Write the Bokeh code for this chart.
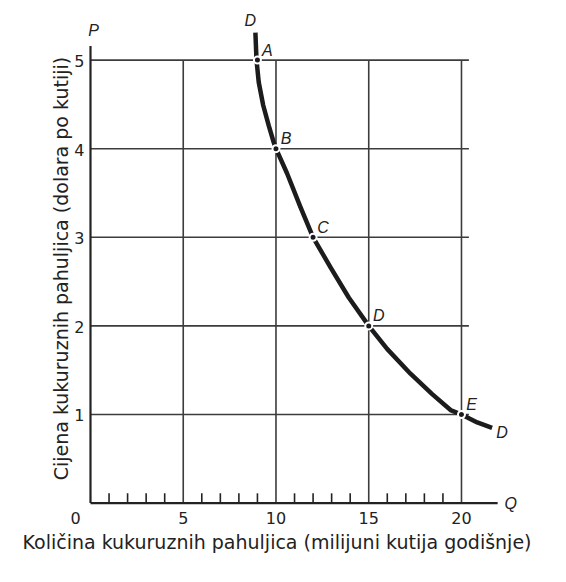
import math
from bokeh.plotting import figure
from bokeh.models import Range1d
from bokeh.embed import file_html
from bokeh.resources import INLINE
from bokeh.core.properties import value

# data
q_points = [9, 10, 12, 15, 20]
p_points = [5, 4, 3, 2, 1]
point_names = ["A", "B", "C", "D", "E"]
curve_q = [8.89, 8.95, 9.07, 9.31, 9.61, 9.88, 10.0, 10.60, 11.32, 12.0, 12.94, 13.92,
           15.0, 15.99, 17.25, 18.42, 19.41, 20.0, 20.85, 21.65]
curve_p = [5.31, 5.0, 4.75, 4.49, 4.26, 4.07, 4.0, 3.72, 3.34, 3.0, 2.66, 2.32,
           2.0, 1.74, 1.46, 1.23, 1.05, 1.0, 0.91, 0.85]
x_ticks = [5, 10, 15, 20]
x_tick_labels = ["5", "10", "15", "20"]
x_minor = [1, 2, 3, 4, 6, 7, 8, 9, 11, 12, 13, 14, 16, 17, 18, 19]
y_ticks = [1, 2, 3, 4, 5]
y_tick_labels = ["1", "2", "3", "4", "5"]
x_axis_end = 21.95
y_axis_end = 5.16
grid_x_end = 20.4
grid_y_end = 5.0
minor_tick_len = 0.11
x_title = "Količina kukuruznih pahuljica (milijuni kutija godišnje)"
y_title = "Cijena kukuruznih pahuljica (dolara po kutiji)"

FONT = "DejaVu Sans"
LFONT = "Liberation Sans"
INK = "#222222"
GRID = "#3c3c3c"

p = figure(frame_width=525, frame_height=560,
           x_range=Range1d(-4.043, 24.26), y_range=Range1d(-0.716, 5.605),
           x_axis_location=None, y_axis_location=None,
           output_backend="svg", toolbar_location=None,
           min_border_left=15, min_border_right=8, min_border_top=6, min_border_bottom=6)
p.outline_line_color = None
p.grid.visible = False

# grid lines (limited extent)
p.segment(x0=x_ticks, y0=[0] * len(x_ticks), x1=x_ticks, y1=[grid_y_end] * len(x_ticks),
          line_color=GRID, line_width=1.6)
p.segment(x0=[0] * len(y_ticks), y0=y_ticks, x1=[grid_x_end] * len(y_ticks), y1=y_ticks,
          line_color=GRID, line_width=1.6)

# minor ticks on the quantity axis
p.segment(x0=x_minor, y0=[0] * len(x_minor), x1=x_minor, y1=[minor_tick_len] * len(x_minor),
          line_color=INK, line_width=1.6)

# axis lines
p.line([0, 0], [0, y_axis_end], line_color=INK, line_width=2.2)
p.line([0, x_axis_end], [0, 0], line_color=INK, line_width=2.2)

# tick labels
p.text(x=x_ticks, y=[0] * len(x_ticks), text=x_tick_labels, y_offset=15,
       text_font=value(FONT), text_font_size="16px", text_color=INK,
       text_align="center", text_baseline="middle")
p.text(x=[0] * len(y_ticks), y=y_ticks, text=y_tick_labels, x_offset=-6, y_offset=1,
       text_font=value(FONT), text_font_size="16px", text_color=INK,
       text_align="right", text_baseline="middle")
p.text(x=[0], y=[0], text=["0"], x_offset=-15, y_offset=15,
       text_font=value(FONT), text_font_size="16px", text_color=INK,
       text_align="center", text_baseline="middle")

# axis titles
p.text(x=[10], y=[0], text=[x_title], x_offset=1, y_offset=39,
       text_font=value(FONT), text_font_size="19px", text_color=INK,
       text_align="center", text_baseline="middle")
p.text(x=[0], y=[2.5], text=[y_title], x_offset=-29, y_offset=-13, angle=math.pi / 2,
       text_font=value(FONT), text_font_size="19px", text_color=INK,
       text_align="center", text_baseline="middle")

# demand curve
p.line(curve_q, curve_p, line_color="#1c1c1c", line_width=4.5, line_join="round", line_cap="butt")
p.scatter(q_points, p_points, size=7, fill_color="#1c1c1c", line_color="white", line_width=2)

# point labels
p.text(x=q_points, y=p_points, text=point_names, x_offset=10, y_offset=-10,
       text_font=value(LFONT), text_font_style="italic", text_font_size="16px",
       text_color=INK, text_align="center", text_baseline="middle")

# curve end labels and axis names
p.text(x=[curve_q[0], curve_q[-1]], y=[curve_p[0], curve_p[-1]], text=["D", "D"],
       x_offset=[-5, 10], y_offset=[-12, 5],
       text_font=value(LFONT), text_font_style="italic", text_font_size="16px",
       text_color=INK, text_align="center", text_baseline="middle")
p.text(x=[0, x_axis_end], y=[y_axis_end, 0], text=["P", "Q"],
       x_offset=[3, 13], y_offset=[-15, 0],
       text_font=value(LFONT), text_font_style="italic", text_font_size="16px",
       text_color=INK, text_align="center", text_baseline="middle")

open("out.html", "w").write(file_html(p, INLINE))
